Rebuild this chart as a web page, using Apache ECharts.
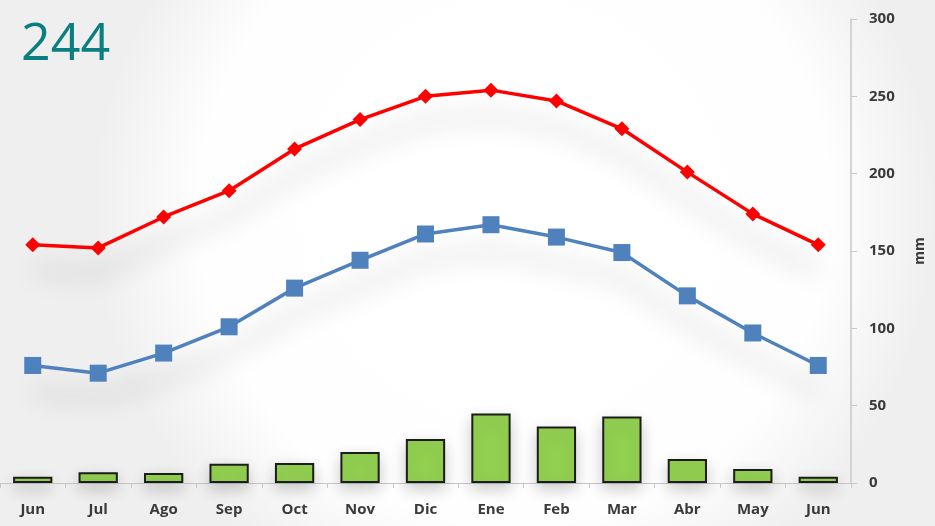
<!DOCTYPE html>
<html>
<head>
<meta charset="utf-8">
<script src="https://cdn.jsdelivr.net/npm/echarts@6/dist/echarts.min.js"></script>
<style>
  html, body { margin: 0; padding: 0; background: #fff; }
  #chart { width: 935px; height: 526px; }
</style>
</head>
<body>
<div id="chart"></div>
<script>
// months, Jun to Jun
const months = ['Jun', 'Jul', 'Ago', 'Sep', 'Oct', 'Nov', 'Dic', 'Ene', 'Feb', 'Mar', 'Abr', 'May', 'Jun'];
// red line (diamonds)
const redLine = [154, 152, 172, 189, 216, 235, 250, 254, 247, 229, 201, 174, 154];
// blue line (squares)
const blueLine = [76, 71, 84, 101, 126, 144, 161, 167, 159, 149, 121, 97, 76];
// green bars
const bars = [4, 7, 6.5, 12.5, 13, 20, 28.5, 45, 36.5, 43, 15.5, 9, 4];
const yTicks = { min: 0, max: 300, interval: 50 };
const titleText = '244';

const myChart = echarts.init(document.getElementById('chart'));

const labelFont = {
  fontFamily: 'Open Sans',
  fontWeight: 'bold',
  fontSize: 15,
  color: '#3a3a3a'
};

// soft blurred shadow under the lines, markers get none
const lineShadow = {
  shadowColor: 'rgba(0,0,0,0.32)',
  shadowBlur: 26,
  shadowOffsetY: 26
};

const option = {
  animation: false,
  backgroundColor: {
    type: 'radial',
    x: 0.55, y: 0.4, r: 0.8,
    colorStops: [
      { offset: 0, color: '#ffffff' },
      { offset: 0.75, color: '#fefefe' },
      { offset: 1, color: '#efefef' }
    ]
  },
  title: {
    text: titleText,
    left: 16,
    top: 14,
    textStyle: {
      fontFamily: 'Open Sans',
      fontWeight: 'normal',
      fontSize: 52,
      color: '#0b7f80'
    }
  },
  grid: {
    left: 0,
    right: 81,
    top: 19,
    bottom: 43
  },
  xAxis: {
    type: 'category',
    data: months,
    boundaryGap: true,
    axisLine: { show: true, lineStyle: { color: '#c8c8c8', width: 1 } },
    axisTick: { show: true, length: 5, lineStyle: { color: '#c8c8c8' } },
    axisLabel: Object.assign({ margin: 19 }, labelFont),
    splitLine: { show: false }
  },
  yAxis: {
    type: 'value',
    position: 'right',
    min: yTicks.min,
    max: yTicks.max,
    interval: yTicks.interval,
    name: 'mm',
    nameLocation: 'middle',
    nameRotate: 90,
    nameGap: 62,
    nameTextStyle: Object.assign({}, labelFont, { fontSize: 14 }),
    axisLine: { show: true, lineStyle: { color: '#c8c8c8', width: 1.5 } },
    axisTick: { show: true, inside: false, length: 6, lineStyle: { color: '#c8c8c8' } },
    axisLabel: Object.assign({ margin: 18 }, labelFont),
    splitLine: { show: false }
  },
  series: [
    {
      name: 'bars',
      type: 'bar',
      data: bars,
      barWidth: '60%',
      itemStyle: {
        color: '#92d050',
        borderColor: '#1c1c1c',
        borderWidth: 2,
        shadowColor: 'rgba(0,0,0,0.2)',
        shadowBlur: 16,
        shadowOffsetY: 6
      }
    },
    {
      name: 'blue',
      type: 'line',
      data: blueLine,
      symbol: 'rect',
      symbolSize: 17,
      lineStyle: Object.assign({ color: '#4f81bd', width: 3.5 }, lineShadow),
      itemStyle: { color: '#4f81bd' },
      z: 3
    },
    {
      name: 'red',
      type: 'line',
      data: redLine,
      symbol: 'diamond',
      symbolSize: 15,
      lineStyle: Object.assign({ color: '#ff0000', width: 3.5 }, lineShadow),
      itemStyle: { color: '#ff0000' },
      z: 4
    }
  ]
};

myChart.setOption(option);
</script>
</body>
</html>
